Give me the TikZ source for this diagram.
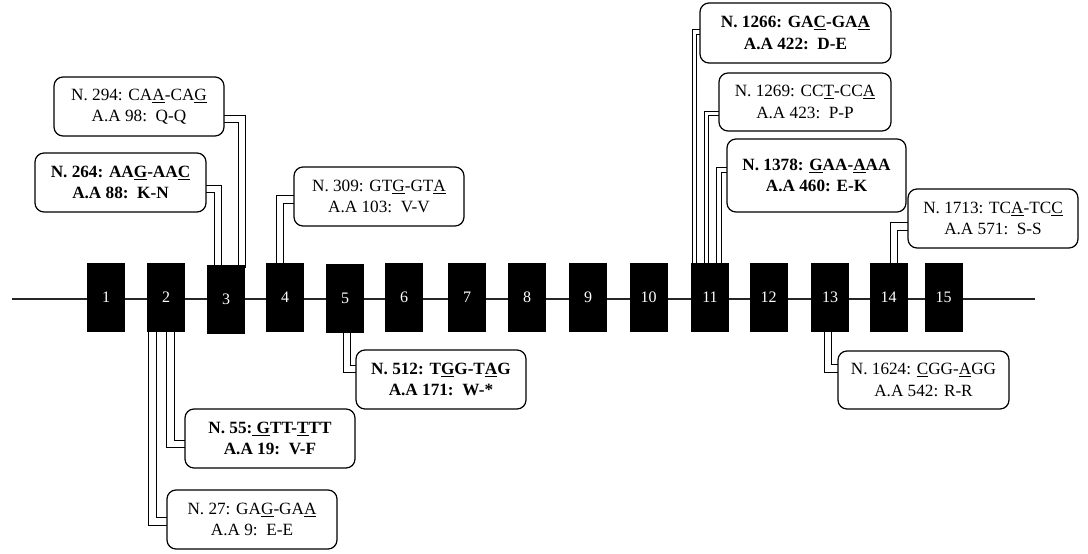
\documentclass[tikz,border=0pt]{standalone}
\usepackage{fontspec}
\setmainfont{Liberation Serif}
\usetikzlibrary{calc}
\pgfdeclarelayer{bg}
\pgfsetlayers{bg,main}
\newsavebox\ulbox
\newcommand\uln[1]{\sbox\ulbox{#1}\rlap{\rule[-2.5pt]{\wd\ulbox}{0.85pt}}\usebox\ulbox}
\begin{document}
\begin{tikzpicture}[x=1pt,y=-1pt,
  exon/.style={fill=black, draw=none, minimum width=38pt, minimum height=69pt,
    inner sep=0pt, outer sep=0pt, text=white, font=\fontsize{16}{16}\selectfont},
  callout/.style={draw=black, fill=white, line width=1.2pt, rounded corners=9pt,
    inner sep=0pt, outer sep=0pt, align=center, font=\fontsize{17.2}{21.5}\selectfont},
  boldcallout/.style={callout, font=\fontsize{17.2}{21.5}\selectfont\bfseries},
  conn/.style={draw=black, double=white, double distance=6.5pt, line width=1.2pt},
  connthin/.style={draw=black, double=white, double distance=3.4pt, line width=1pt},
  axisline/.style={line width=1.2pt, draw=black!85}]
\useasboundingbox (0,0) rectangle (1088,554);

% exons
\node[exon] (e1)  at (106,297.5)   {\raisebox{-2pt}{1}};
\node[exon] (e2)  at (166,297.5)   {\raisebox{-2pt}{2}};
\node[exon] (e3)  at (226,299.5)   {\raisebox{-2pt}{3}};
\node[exon] (e4)  at (285,297.5)   {\raisebox{-2pt}{4}};
\node[exon] (e5)  at (345,298.5)   {\raisebox{-2pt}{5}};
\node[exon] (e6)  at (404,297.5)   {\raisebox{-2pt}{6}};
\node[exon] (e7)  at (467,297.5)   {\raisebox{-2pt}{7}};
\node[exon] (e8)  at (527,297.5)   {\raisebox{-2pt}{8}};
\node[exon] (e9)  at (588,297.5)   {\raisebox{-2pt}{9}};
\node[exon] (e10) at (648.5,297.5) {\raisebox{-2pt}{10}};
\node[exon] (e11) at (710,297.5)   {\raisebox{-2pt}{11}};
\node[exon] (e12) at (768.5,297.5) {\raisebox{-2pt}{12}};
\node[exon] (e13) at (830,297.5)   {\raisebox{-2pt}{13}};
\node[exon] (e14) at (888.5,297.5) {\raisebox{-2pt}{14}};
\node[exon] (e15) at (943.5,297.5) {\raisebox{-2pt}{15}};
\coordinate (axL) at (12,299);
\coordinate (axR) at (1035,299);

% callouts
\node[callout, minimum width=170pt, minimum height=59pt] (b294) at (139,106.5)
  {N. 294: CA\uln{A}-CA\uln{G}\\A.A 98:\ \ Q-Q};
\node[boldcallout, minimum width=171pt, minimum height=59pt] (b264) at (120.5,182.5)
  {N. 264: AA\uln{G}-AA\uln{C}\\A.A 88:\ \ K-N};
\node[callout, minimum width=170pt, minimum height=59pt] (b309) at (379,196.5)
  {N. 309: GT\uln{G}-GT\uln{A}\\A.A 103:\ \ V-V};
\node[boldcallout, minimum width=170pt, minimum height=59pt] (b512) at (441,379.5)
  {N. 512: T\uln{G}G-T\uln{A}G\\A.A 171:\ \ W-*};
\node[boldcallout, minimum width=170pt, minimum height=59pt] (b55) at (270,438.5)
  {N. 55:\uln{\ G}TT-\uln{T}TT\\A.A 19:\ \ V-F};
\node[callout, minimum width=170pt, minimum height=59pt] (b27) at (252,519.5)
  {N. 27: GA\uln{G}-GA\uln{A}\\A.A 9:\ \ E-E};
\node[boldcallout, minimum width=191pt, minimum height=60pt] (b1266) at (795.5,33)
  {N. 1266: GA\uln{C}-GA\uln{A}\\A.A 422:\ \ D-E};
\node[callout, minimum width=172pt, minimum height=58pt] (b1269) at (805,102)
  {N. 1269: CC\uln{T}-CC\uln{A}\\A.A 423:\ \ P-P};
\node[boldcallout, minimum width=179pt, minimum height=73pt] (b1378) at (816.5,175.5)
  {N. 1378: \uln{G}AA-\uln{A}AA\\A.A 460: E-K};
\node[callout, minimum width=170pt, minimum height=59pt] (b1713) at (993,218.5)
  {N. 1713: TC\uln{A}-TC\uln{C}\\A.A 571:\ \ S-S};
\node[callout, minimum width=171pt, minimum height=58pt] (b1624) at (923.5,380)
  {N. 1624: \uln{C}GG-\uln{A}GG\\A.A 542: R-R};

\begin{pgfonlayer}{bg}
\draw[axisline] (axL) -- (axR);
\draw[conn] ($(b294.east)+(-3,12.5)$) -| ($(e3.north)+(16,3)$);
\draw[conn] ($(b264.east)+(-3,6.5)$) -| ($(e3.north)+(-8,3)$);
\draw[conn] ($(b309.west)+(3,3)$) -| ($(e4.north)+(-5,3)$);
\draw[conn] ($(b512.west)+(3,-10.5)$) -| ($(e5.south)+(2,-3)$);
\draw[conn] ($(b55.west)+(3,5.5)$) -| ($(e2.south)+(4.5,-3)$);
\draw[conn] ($(b27.west)+(3,2)$) -| ($(e2.south)+(-13.7,-3)$);
\draw[connthin] ($(b1266.west)+(3,-1)$) -| ($(e11.north)+(-15.5,3)$);
\draw[connthin] ($(b1269.west)+(3,11.3)$) -| ($(e11.north)+(-3.5,3)$);
\draw[connthin] ($(b1378.west)+(3,-5.5)$) -| ($(e11.north)+(9,3)$);
\draw[conn] ($(b1713.west)+(3,8)$) -| ($(e14.north)+(5.5,3)$);
\draw[conn] ($(b1624.west)+(3,-11.5)$) -| ($(e13.south)+(-2,-3)$);
\end{pgfonlayer}
\end{tikzpicture}
\end{document}
